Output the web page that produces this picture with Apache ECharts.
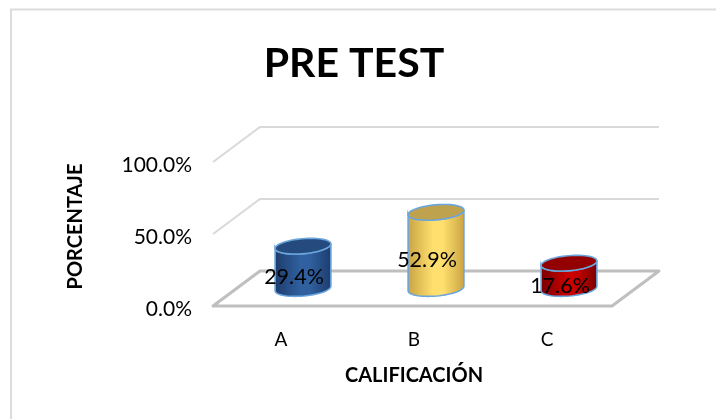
<!DOCTYPE html>
<html><head><meta charset="utf-8">
<style>html,body{margin:0;padding:0;background:#fff}#c{width:716px;height:419px}</style>
<script src="https://cdn.jsdelivr.net/npm/echarts@6/dist/echarts.min.js"></script>
</head><body><div id="c"></div>
<script>
const chartTitle = 'PRE TEST';
const categories = ['A', 'B', 'C'];
const values = [29.4, 52.9, 17.6];
const valueLabels = ['29.4%', '52.9%', '17.6%'];
const wallTicks = [50, 100];
const floorTick = [0];
const xAxisTitle = 'CALIFICACIÓN';
const yAxisTitle = 'PORCENTAJE';
const palettes = [
  {edge:'#1d3b6c', mid:'#30609f', top:'#244a7e'},
  {edge:'#c9a243', mid:'#ffe06e', top:'#bfa24e'},
  {edge:'#780000', mid:'#c80000', top:'#920000'}
];
const FONT = 'Lato';
const DX = 47, DY = -35, RX = 28, RY = 7.5, TILT = -5 * Math.PI / 180;

function ell(cx, cy, t) {
  const a = RX * Math.cos(t), b = RY * Math.sin(t);
  return [cx + a * Math.cos(TILT) - b * Math.sin(TILT), cy + a * Math.sin(TILT) + b * Math.cos(TILT)];
}
function arc(cx, cy, t0, t1, n) {
  const out = [];
  for (let i = 0; i <= n; i++) out.push(ell(cx, cy, t0 + (t1 - t0) * i / n));
  return out;
}
const chart = echarts.init(document.getElementById('c'), null, {renderer: 'canvas'});
chart.setOption({
  animation: false,
  backgroundColor: '#fff',
  textStyle: {fontFamily: FONT},
  title: {text: chartTitle, left: 349, top: 38, textAlign: 'center',
    textStyle: {fontFamily: FONT, fontSize: 41, fontWeight: 'bold', color: '#000'}},
  graphic: [{type: 'polyline', silent: true, z: 0,
    shape: {points: [[716, 9.5], [11, 9.5], [11, 419]]},
    style: {fill: null, stroke: '#dcdcdc', lineWidth: 2}}],
  grid: {left: 213, top: 162, width: 399, height: 144},
  xAxis: {type: 'category', data: categories,
    axisLine: {show: false}, axisTick: {show: false},
    axisLabel: {fontSize: 19, color: '#000', margin: 24, fontFamily: FONT, padding: [0, 0, 0, 3]},
    name: xAxisTitle, nameLocation: 'middle', nameGap: 60,
    nameTextStyle: {fontSize: 20, fontWeight: 'bold', color: '#000', fontFamily: FONT, padding: [0, 0, 0, 3]}},
  yAxis: {type: 'value', min: 0, max: 100, interval: 50,
    axisLine: {show: false}, axisTick: {show: false}, splitLine: {show: false},
    axisLabel: {fontSize: 21, color: '#000', margin: 21, fontFamily: FONT,
      formatter: v => v.toFixed(1) + '%', verticalAlign: 'top', lineHeight: 7},
    name: yAxisTitle, nameLocation: 'middle', nameGap: 127, nameRotate: 90,
    nameTextStyle: {fontSize: 20, fontWeight: 'bold', color: '#000', fontFamily: FONT, padding: [0, 0, 0, 15]}},
  series: [
    {type: 'custom', z: 1, silent: true, data: wallTicks.map(v => [0, v]),
     renderItem(params, api) {
       const g = params.coordSys, y = api.coord([0, api.value(1)])[1];
       return {type: 'polyline', shape: {points: [[g.x, y], [g.x + DX, y + DY], [g.x + g.width + DX, y + DY]]},
         style: {fill: null, stroke: '#d9d9d9', lineWidth: 2}};
     }},
    {type: 'custom', z: 2, silent: true, data: floorTick.map(v => [0, v]),
     renderItem(params, api) {
       const g = params.coordSys, y = api.coord([0, api.value(1)])[1];
       return {type: 'polygon', shape: {points: [[g.x, y], [g.x + g.width, y], [g.x + g.width + DX, y + DY], [g.x + DX, y + DY]]},
         style: {fill: '#fff', stroke: '#bfbfbf', lineWidth: 3, lineJoin: 'round'}};
     }},
    {type: 'custom', z: 3, silent: true, data: values.map((v, i) => [i, v]),
     renderItem(params, api) {
       const i = api.value(0), p = api.coord([i, api.value(1)]), b = api.coord([i, 0]);
       const cx = p[0] + DX / 2, ty = p[1] + DY / 2, by = b[1] + DY / 2, c = palettes[i];
       const body = arc(cx, by, 0, Math.PI, 30).concat(arc(cx, ty, Math.PI, 0, 30));
       const stroke = '#6aa5dc';
       return {type: 'group', children: [
         {type: 'polygon', shape: {points: body},
          style: {stroke: stroke, lineWidth: 1.6, fill: new echarts.graphic.LinearGradient(0, 0, 1, 0, [
            {offset: 0, color: c.edge}, {offset: 0.45, color: c.mid}, {offset: 0.62, color: c.mid}, {offset: 1, color: c.edge}])}},
         {type: 'polygon', shape: {points: arc(cx, ty, 0, 2 * Math.PI, 60)},
          style: {fill: c.top, stroke: stroke, lineWidth: 1.6}},
         {type: 'text', z2: 10, style: {text: valueLabels[i], x: cx - 9, y: (ty + by) / 2 + 10,
           align: 'center', verticalAlign: 'middle', fill: '#000', fontSize: 21.5, fontFamily: FONT}}
       ]};
     }}
  ]
});
</script></body></html>
